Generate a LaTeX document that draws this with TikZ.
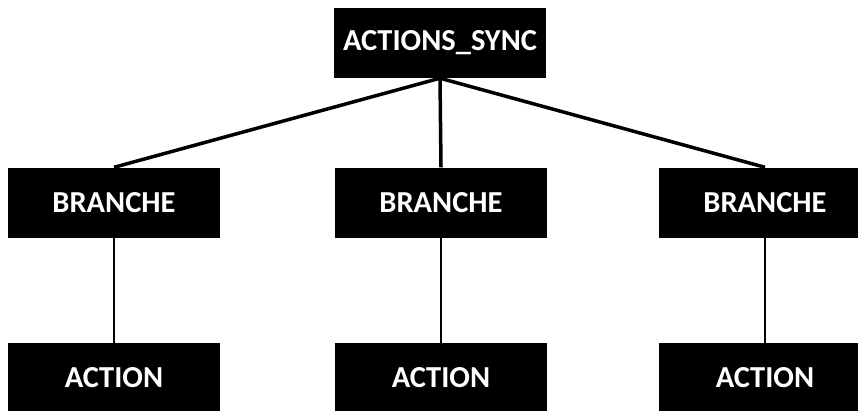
\documentclass[tikz,border=0pt]{standalone}
\usepackage{fontspec}
\setmainfont{Carlito}
\begin{document}
\begin{tikzpicture}[x=1pt, y=-1pt, every node/.style={rectangle, fill=black, text=white, font=\bfseries\fontsize{30.5}{33}\selectfont, minimum width=212pt, minimum height=70pt, inner sep=0pt}]
        \useasboundingbox (0,0) rectangle (858,410);
        \clip (0,0) rectangle (858,410);
        \node (sync) at (440,43) {ACTIONS\_SYNC};
        \node (brA) at (114,202.5) {BRANCHE};
        \node (brB) at (441,202.5) {BRANCHE};
        \node (brC) at (765,202.5) {BRANCHE};
        \node (acA) at (114,378) {ACTION};
        \node (acB) at (441,378) {ACTION};
        \node (acC) at (765,378) {ACTION};
        \draw[line width=3.5pt] (sync.south)--(brA.north);
        \draw[line width=3.5pt] (sync.south)--(brB.north);
        \draw[line width=3.5pt] (sync.south)--(brC.north);
        \draw[line width=1.6pt] (brA)--(acA);
        \draw[line width=1.6pt] (brB)--(acB);
        \draw[line width=1.6pt] (brC)--(acC);
    \end{tikzpicture}
\end{document}
